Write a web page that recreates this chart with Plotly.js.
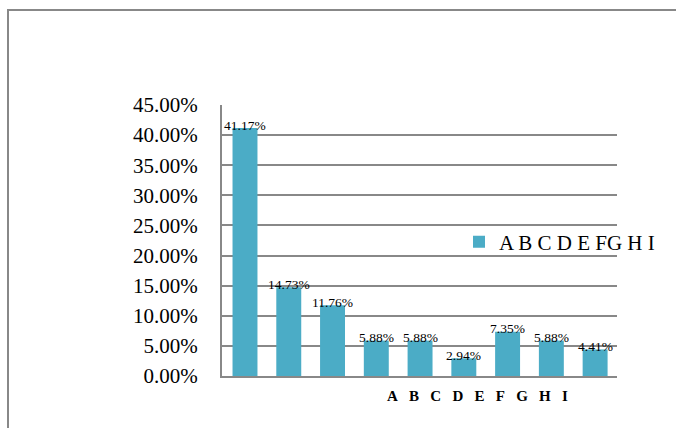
<!DOCTYPE html>
<html>
<head>
<meta charset="utf-8">
<script src="https://cdn.plot.ly/plotly-3.0.1.min.js"></script>
<style>
html,body{margin:0;padding:0;background:#fff;}
#wrap{position:relative;width:676px;height:428px;}
#chart{position:absolute;left:0;top:0;width:676px;height:428px;}
#frame{position:absolute;left:7px;top:9px;width:669px;height:419px;border-top:2px solid #888;border-left:2px solid #888;pointer-events:none;box-sizing:border-box;}
</style>
</head>
<body>
<div id="wrap"><div id="chart"></div><div id="frame"></div></div>
<script>
const categories = ["A","B","C","D","E","F","G","H","I"];
const values = [41.17, 14.73, 11.76, 5.88, 5.88, 2.94, 7.35, 5.88, 4.41];
const seriesName = "A B C D E FG H I";
const yTicks = [0, 5, 10, 15, 20, 25, 30, 35, 40, 45];

const serif = "Liberation Serif, Times New Roman, serif";

const trace = {
  type: "bar",
  x: categories,
  y: values,
  name: seriesName,
  marker: {color: "#4BACC6"},
  width: 0.57,
  showlegend: true,
  hoverinfo: "none"
};

const labelAnns = categories.map((c, i) => ({
  x: c, y: values[i], xref: "x", yref: "y",
  text: values[i].toFixed(2) + "%",
  showarrow: false, yanchor: "middle", yshift: 3,
  font: {family: serif, size: 13.5, color: "#000"}
}));

const catLabel = {
  x: 0.648, y: -0.0756, xref: "paper", yref: "paper",
  xanchor: "center", yanchor: "middle", showarrow: false,
  text: "<b>" + categories.join("\u00a0\u00a0\u00a0") + "</b>",
  font: {family: serif, size: 15, color: "#000"}
};

const layout = {
  width: 676, height: 428,
  margin: {l: 222, r: 59, t: 105, b: 52},
  paper_bgcolor: "#fff", plot_bgcolor: "#fff",
  showlegend: true,
  legend: {
    x: 0.6, y: 0.494, xanchor: "left", yanchor: "middle",
    font: {family: serif, size: 21, color: "#000"},
    bgcolor: "rgba(0,0,0,0)", itemwidth: 30
  },
  xaxis: {
    type: "category", showticklabels: false, ticks: "",
    showgrid: false, showline: true, linecolor: "#888", linewidth: 2,
    zeroline: false
  },
  yaxis: {
    range: [0, 45], tickvals: yTicks,
    ticktext: yTicks.map(v => v.toFixed(2) + "%"),
    showgrid: true, gridcolor: "#888", gridwidth: 2,
    showline: true, linecolor: "#888", linewidth: 2,
    zeroline: false, ticks: "", ticklen: 0, ticklabelstandoff: 18,
    tickfont: {family: serif, size: 21, color: "#000"}
  },
  annotations: labelAnns.concat([catLabel])
};

Plotly.newPlot("chart", [trace], layout, {displayModeBar: false, staticPlot: true});
</script>
</body>
</html>
